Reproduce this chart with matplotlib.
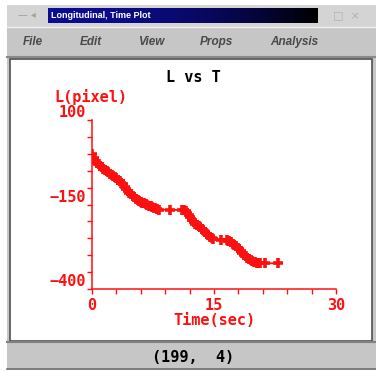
import numpy as np
import matplotlib
matplotlib.use("Agg")
import matplotlib.pyplot as plt
from matplotlib.patches import Rectangle
from matplotlib.ticker import MultipleLocator

# time (sec) and longitudinal position L (pixel)
t = [0.0, 0.2, 0.4, 0.6, 0.8, 1.0, 1.2, 1.4, 1.6, 1.8, 2.0, 2.2, 2.4, 2.6, 2.8,
     3.0, 3.2, 3.4, 3.6, 3.8, 4.0, 4.2, 4.4, 4.6, 4.8, 5.0, 5.2, 5.4, 5.6, 5.8,
     6.0, 6.2, 6.4, 6.6, 6.8, 7.0, 7.2, 7.4, 7.6, 7.8, 8.0, 8.2,
     9.6, 11.1,
     11.3, 11.5, 11.7, 11.9, 12.1, 12.3, 12.5, 12.7, 12.9, 13.1, 13.3, 13.5,
     13.7, 13.9, 14.1, 14.3, 14.5, 14.7, 14.9,
     15.8, 16.6,
     16.7, 16.9, 17.1, 17.3, 17.5, 17.7, 17.9, 18.1, 18.3, 18.5, 18.7, 18.9,
     19.1, 19.3, 19.5, 19.7, 19.9, 20.1, 20.3, 20.5, 20.7,
     21.3, 22.9]
L = [-2, -12, -22, -27, -31, -35, -40, -44, -48, -52, -55, -59, -62, -66, -70,
     -73, -77, -80, -85, -90, -97, -104, -110, -115, -120, -125, -129, -133, -136, -139,
     -142, -145, -147, -149, -151, -153, -155, -157, -159, -161, -163, -165,
     -166, -166,
     -167, -170, -175, -181, -188, -196, -203, -207, -210, -214, -218, -222,
     -226, -231, -236, -241, -246, -250, -253,
     -255, -256,
     -257, -259, -262, -266, -270, -274, -278, -283, -288, -293, -298, -303,
     -307, -311, -314, -317, -319, -321, -322, -323, -324,
     -324, -324]

xticks = [0, 15, 30]
yticks = [100, -150, -400]
ytick_labels = ['100', '\u2212150', '\u2212400']
menu = ['File', 'Edit', 'View', 'Props', 'Analysis']
menu_x = [33, 91, 151, 216, 294]

W, H = 376, 371
red = '#ff1010'
mono = 'DejaVu Sans Mono'

fig = plt.figure(figsize=(W / 100, H / 100), dpi=100)
fig.patch.set_facecolor('white')

# window chrome, drawn in pixel coordinates
bg = fig.add_axes([0, 0, 1, 1])
bg.set_xlim(0, W)
bg.set_ylim(H, 0)
bg.axis('off')

bg.add_patch(Rectangle((7, 5), 369, 365, fc='#c6c6c6', ec='none'))
bg.add_patch(Rectangle((7, 5), 369, 22, fc='#d4d4d4', ec='none'))
grad = np.linspace(0, 1, 256).reshape(1, -1) ** 2
bg.imshow(grad, extent=(48, 318, 23, 8), aspect='auto', zorder=2,
          cmap=matplotlib.colors.LinearSegmentedColormap.from_list('tb', ['#0c0c90', '#000000']))
bg.text(51, 15.5, 'Longitudinal, Time Plot', color='white', fontsize=6.5,
        fontweight='bold', family='Liberation Sans', va='center', ha='left', zorder=3)
bg.text(27, 15.5, '\u2014 \u25c2', color='#a0a0a0', fontsize=7, va='center', ha='center')
bg.text(346, 15.5, '\u25a1  \u00d7', color='#b0b0b0', fontsize=8, va='center', ha='center')
bg.plot([7, 376], [26.5, 26.5], color='#f0f0f0', lw=1)
bg.plot([7, 376], [56.5, 56.5], color='#8a8a8a', lw=1.5)
for name, mx in zip(menu, menu_x):
    bg.text(mx, 42, name, color='#4a4a4a', fontsize=8.5, style='italic',
            fontweight='bold', family='Liberation Sans', ha='center', va='center')

bg.add_patch(Rectangle((10, 59), 362, 282, fc='white', ec='#505050', lw=1.2))
bg.plot([7, 376], [342, 342], color='#808080', lw=1.5)
bg.plot([7, 376], [369, 369], color='#707070', lw=1.2)
bg.text(193, 358, '(199,  4)', color='black', fontsize=11, fontweight='bold',
        family=mono, ha='center', va='center')
bg.text(193, 77, 'L vs T', color='black', fontsize=11, fontweight='bold',
        family=mono, ha='center', va='center')

# data plot
x0, x1, ytop, ybot = 92, 336, 120, 289
ax = fig.add_axes([x0 / W, (H - ybot) / H, (x1 - x0) / W, (ybot - ytop) / H])
ax.patch.set_alpha(0)
ax.plot(t, L, color=red, lw=1.3, marker='+', ms=7, mew=2.6)
ax.set_xlim(0, 30)
ax.set_ylim(-400, 100)
for s in ['top', 'right']:
    ax.spines[s].set_visible(False)
for s in ['left', 'bottom']:
    ax.spines[s].set_color(red)
    ax.spines[s].set_linewidth(1.1)
ax.set_xticks(xticks)
ax.set_xticklabels([str(v) for v in xticks])
ax.set_yticks(yticks)
ax.set_yticklabels(ytick_labels)
ax.xaxis.set_minor_locator(MultipleLocator(3))
ax.yaxis.set_minor_locator(MultipleLocator(50))
ax.tick_params(which='both', color=red, length=3.5, width=1, direction='out')
ax.tick_params(axis='x', labelcolor=red, labelsize=11, pad=3)
ax.tick_params(axis='y', labelcolor=red, labelsize=11, pad=1)
for lbl in ax.get_xticklabels() + ax.get_yticklabels():
    lbl.set_family(mono)
    lbl.set_fontweight('bold')
for lbl in ax.get_yticklabels():
    lbl.set_va('bottom')
ax.set_xlabel('Time(sec)', color=red, fontsize=11, fontweight='bold', family=mono, labelpad=0)
ax.set_ylabel('L(pixel)', color=red, fontsize=11, fontweight='bold', family=mono,
              rotation=0, ha='center', va='center')
ax.yaxis.set_label_coords(-0.004, 1.136)

fig.savefig('out.png', dpi=100)
